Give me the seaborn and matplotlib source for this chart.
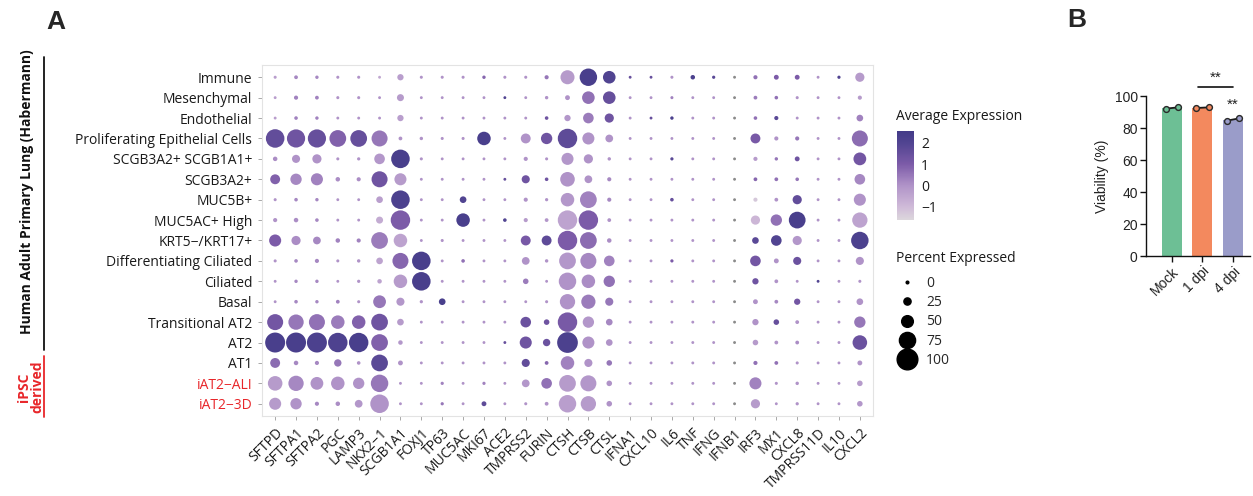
import numpy as np
import pandas as pd

import matplotlib as mpl
mpl.use('Agg')
import matplotlib.pyplot as plt
from matplotlib.colors import LinearSegmentedColormap, Normalize
from matplotlib.lines import Line2D

import seaborn as sns

DPI = 100
FIG_PX = (1253, 496)

CELL_TYPES = ['Immune', 'Mesenchymal', 'Endothelial',
              'Proliferating Epithelial Cells', 'SCGB3A2+ SCGB1A1+',
              'SCGB3A2+', 'MUC5B+', 'MUC5AC+ High', 'KRT5\u2212/KRT17+',
              'Differentiating Ciliated', 'Ciliated', 'Basal',
              'Transitional AT2', 'AT2', 'AT1',
              'iAT2\u2212ALI', 'iAT2\u22123D']
IPSC_TYPES = ['iAT2\u2212ALI', 'iAT2\u22123D']

GENES = ['SFTPD', 'SFTPA1', 'SFTPA2', 'PGC', 'LAMP3', 'NKX2\u22121',
         'SCGB1A1', 'FOXJ1', 'TP63', 'MUC5AC', 'MKI67', 'ACE2', 'TMPRSS2',
         'FURIN', 'CTSH', 'CTSB', 'CTSL', 'IFNA1', 'CXCL10', 'IL6', 'TNF',
         'IFNG', 'IFNB1', 'IRF3', 'MX1', 'CXCL8', 'TMPRSS11D', 'IL10', 'CXCL2']

# percent of cells expressing, one list per cell type (same order as GENES)
PCT_EXPRESSED = [
    [2, 6, 4, 2, 2, 1, 20, 2, 2, 2, 4, 2, 2, 8, 63, 82, 55, 1, 1, 2, 10, 3, 1, 8, 12, 12, 1, 3, 36],
    [1, 8, 6, 2, 2, 1, 24, 1, 1, 1, 1, 1, 1, 4, 12, 55, 55, 1, 1, 2, 1, 1, 1, 6, 5, 2, 1, 1, 8],
    [1, 5, 4, 1, 1, 1, 20, 1, 1, 1, 1, 1, 1, 5, 20, 44, 36, 1, 1, 4, 1, 1, 1, 5, 8, 1, 1, 1, 22],
    [88, 86, 86, 78, 78, 74, 6, 4, 2, 2, 60, 1, 40, 48, 93, 52, 28, 1, 1, 1, 1, 1, 1, 40, 8, 8, 1, 1, 74],
    [10, 30, 36, 2, 3, 44, 88, 2, 1, 1, 1, 1, 8, 2, 52, 36, 4, 1, 1, 3, 1, 1, 1, 8, 4, 12, 1, 1, 56],
    [40, 48, 52, 10, 8, 74, 52, 1, 1, 1, 1, 1, 30, 5, 66, 28, 8, 1, 1, 1, 1, 1, 1, 6, 6, 5, 1, 1, 44],
    [2, 5, 4, 1, 1, 22, 88, 1, 1, 22, 1, 1, 8, 3, 60, 78, 8, 1, 1, 5, 1, 1, 1, 8, 6, 36, 1, 1, 52],
    [8, 10, 5, 1, 1, 24, 93, 1, 1, 60, 1, 5, 8, 6, 93, 93, 6, 1, 1, 1, 1, 1, 1, 36, 48, 78, 1, 1, 70],
    [52, 36, 28, 10, 8, 78, 60, 1, 2, 1, 1, 1, 40, 40, 93, 78, 10, 1, 1, 1, 1, 1, 1, 22, 44, 36, 1, 1, 82],
    [2, 5, 8, 2, 4, 22, 74, 88, 1, 5, 1, 1, 28, 4, 78, 74, 44, 1, 1, 3, 1, 1, 1, 44, 12, 30, 1, 1, 30],
    [1, 4, 4, 1, 3, 10, 60, 88, 1, 1, 1, 1, 16, 1, 82, 60, 48, 1, 1, 1, 1, 1, 1, 20, 6, 1, 1, 1, 2],
    [1, 5, 4, 6, 2, 56, 30, 3, 22, 1, 1, 1, 1, 2, 70, 64, 30, 1, 1, 1, 1, 1, 1, 12, 6, 20, 1, 1, 22],
    [74, 70, 74, 60, 60, 78, 22, 1, 1, 1, 1, 1, 44, 16, 93, 48, 22, 1, 1, 1, 1, 1, 1, 20, 16, 6, 1, 1, 48],
    [96, 96, 96, 93, 93, 78, 10, 1, 1, 1, 1, 1, 52, 26, 100, 52, 22, 1, 1, 1, 1, 1, 1, 16, 6, 6, 1, 1, 66],
    [40, 10, 8, 26, 5, 78, 12, 1, 1, 1, 1, 1, 30, 6, 60, 30, 16, 1, 1, 1, 1, 1, 1, 8, 6, 2, 1, 1, 12],
    [66, 70, 56, 60, 48, 82, 1, 1, 3, 1, 3, 1, 28, 44, 78, 74, 16, 1, 1, 1, 1, 1, 1, 52, 2, 4, 1, 1, 16],
    [52, 48, 8, 10, 28, 88, 1, 1, 3, 1, 12, 1, 2, 6, 82, 70, 16, 1, 1, 1, 1, 1, 1, 36, 1, 3, 1, 1, 16],
]

nan = np.nan
# scaled average expression (IFNB1 has no value -> grey dots)
AVG_EXPRESSION = [
    [-0.3, 0.2, 0.2, 0, 0, -0.5, -0.3, 0, 0, 0, 0.8, 0, 0, 0.5, -0.2, 2.3, 2.0, 1.5, 1.5, 0, 2.2, 1.8, nan, 0.6, 1.0, 1.0, 0, 2.0, -0.2],
    [-0.3, 0.3, 0.3, 0, 0, 0, -0.2, 0, 0, 0, 0, 2.0, 0, 0, 0, 0.6, 1.5, 0, 0, 0.3, 0, 0, nan, 0.4, 0.6, 0, 0, 0, -0.2],
    [-0.3, 0.3, 0.3, 0, 0, 0, -0.3, 0, 0, 0, 0, 0, 0, 1.3, -0.1, 0.4, 1.3, 0, 1.5, 2.2, 0, 0, nan, 0.6, 1.8, 0, 0, 0, 0.3],
    [1.6, 1.3, 1.5, 0.9, 1.5, 0.5, 0, 0, 0, 0, 2.3, 0, 0, 1.3, 1.7, 0, 0, 0, 0, 0, 0, 0, nan, 1.1, 0, 0.5, 0, 0, 0.7],
    [0.1, 0, 0, 0, 0, -0.1, 2.3, 0, 0, 0, 0, 0, 0, 0, -0.1, 0, 0, 0, 0, 1.8, 0, 0, nan, -0.2, 0.5, 1.3, 0, 0, 1.2],
    [0.9, 0.2, 0.3, 0.1, 0.1, 1.3, -0.2, 0, 0, 0, 0, 1.5, 1.3, 1.3, 0, 0, 0.2, 0, 0, 0, 0, 0, nan, 0.8, 0.6, 0.5, 0, 0, 0.2],
    [0, 0.2, 0.2, 0, 0, -0.3, 2.2, 0, 0, 2.0, 0, 0, 0, 0, -0.1, 0.3, 0.2, 0, 0, 1.5, 0, 0, nan, -1.3, 0, 1.6, 0, 0, 0],
    [0, 0.1, 0.2, 0, 0, -0.6, 1.0, 0, 0, 2.3, 0, 2.0, -0.2, -0.1, -0.4, 1.0, 0, 0, 0, 0, 0, 0, nan, -0.9, 0.6, 2.3, 0, 0, -0.4],
    [1.0, 0.1, 0.2, 0.3, 0.3, 0.4, -0.4, 0, 0, 0, 0, 0, 1.1, 1.7, 1.0, 0.7, 0.1, 0, 0, 0, 0, 0, nan, 1.8, 2.0, -0.1, 0, 0, 2.2],
    [0, 0.2, 0.2, 0, 0, -0.4, 0.8, 2.3, 0, 0.6, 0, 0, 0, 0, -0.1, 0.2, 0.3, 0, 0, 1.0, 0, 0, nan, 1.2, 0, 1.4, 0, 0, 0],
    [0, 0.2, 0.2, 0, 0, -0.4, -0.2, 2.3, 0, 0, 0, 0, 0.4, 0, 0, 0.1, 0.6, 0, 0, 0, 0, 0, nan, 1.3, 0, 0, 2.0, 0, 0],
    [0, 0.2, 0.2, 0.3, 0, 0.5, -0.1, 0, 2.3, 0, 0, 0, 0, 0, 0, 0.4, 0.5, 0, 0, 0, 0, 0, nan, 0, 0.2, 1.2, 0, 0, 0],
    [1.2, 0.5, 0.6, 0.4, 0.9, 1.3, -0.2, 0, 0, 0, 0, 0, 1.4, 1.3, 1.1, -0.1, 0.2, 0, 0, 0, 0, 0, nan, 0, 1.5, 0, 0, 0, 0.5],
    [2.3, 2.3, 2.2, 2.1, 2.3, 0.9, -0.1, 0, 0, 0, 0, 1.5, 1.3, 1.4, 2.2, 0, 0, 0, 0, 0, 0, 0, nan, -0.2, 0, 0.1, 0, 0, 1.4],
    [0.7, 0.2, 0.2, 0.5, 0, 1.8, 0, 0, 0, 0, 0, 0, 1.6, 0.8, 0.3, 0, 0.5, 0, 0, 0, 0, 0, nan, 0.6, 0.6, 0, 0, 0, 0],
    [-0.2, 0.2, 0, 0, 0, 0.5, 0, 0, 0.3, 0, 0.3, 0, -0.1, 0.6, -0.2, -0.1, 0, 0, 0, 0, 0, 0, nan, 0.3, 0, 0, 0, 0, -0.2],
    [-0.2, 0, 0.2, 0.1, -0.1, 0, 0, 0, 0.5, 0, 1.7, 0, 0, 0, -0.3, -0.2, 0, 0, 0, 0, 0, 0, nan, -0.2, 0, 0, 0, 0, -0.1],
]

LEGEND_PCT = [0, 25, 50, 75, 100]
CBAR_TICKS = [-1, 0, 1, 2]
VMIN, VMAX = -1.62, 2.55

# panel B
CONDITIONS = ['Mock', '1 dpi', '4 dpi']
VIABILITY_REP1 = [92.1, 92.5, 84.6]
VIABILITY_REP2 = [92.9, 92.9, 86.0]
BAR_COLORS = ['#6dbf95', '#f3895e', '#9a9cc9']

FONT_A = ['Open Sans', 'DejaVu Sans']
FONT_B = ['Liberation Sans', 'DejaVu Sans']
RED = '#e8262a'


def fx(px):
    return px / FIG_PX[0]


def fy(px):
    return 1 - px / FIG_PX[1]


def dot_area(pct):
    '''
    radius grows linearly with percent, returns scatter area in pt^2
    '''
    d_px = 2.7 + 0.18 * pct
    return (d_px * 72 / DPI) ** 2


def dot_plot(fig):
    rows = []
    for i, cell in enumerate(CELL_TYPES):
        for j, gene in enumerate(GENES):
            rows.append({'cell': cell, 'gene': gene,
                         'pct': PCT_EXPRESSED[i][j],
                         'avg': AVG_EXPRESSION[i][j]})
    df = pd.DataFrame(rows)
    sizes = {v: dot_area(v) for v in df['pct'].unique()}

    cmap = LinearSegmentedColormap.from_list(
        'avg_exp',
        [(0.0, '#dcd7dc'), (0.149, '#cfbad8'), (0.388, '#b093c8'),
         (0.628, '#7c5ba8'), (0.868, '#514491'), (1.0, '#433b88')])

    ax = fig.add_axes([fx(262), fy(416), fx(873) - fx(262), fy(65) - fy(416)])
    # fix category order before seaborn adds its own
    ax.xaxis.update_units(np.array(GENES))
    ax.yaxis.update_units(np.array(CELL_TYPES))

    ok = df[df['avg'].notna()]
    missing = df[df['avg'].isna()]
    sns.scatterplot(data=ok, x='gene', y='cell', hue='avg', palette=cmap,
                    hue_norm=(VMIN, VMAX), size='pct', sizes=sizes,
                    linewidth=0, legend=False, ax=ax)
    sns.scatterplot(data=missing, x='gene', y='cell', color='#8a8a8a',
                    size='pct', sizes=sizes, linewidth=0, legend=False, ax=ax)

    ax.set_xlim(-0.63, len(GENES) - 1 + 0.63)
    ax.set_ylim(len(CELL_TYPES) - 1 + 0.6, -0.6)
    ax.set_xlabel('')
    ax.set_ylabel('')
    for sp in ax.spines.values():
        sp.set_color('#e3e3e3')
        sp.set_linewidth(0.8)
    ax.tick_params(axis='both', length=3, width=0.6, color='#9a9a9a',
                   labelsize=10, labelcolor='#1a1a1a', pad=4,
                   bottom=True, left=True)
    plt.setp(ax.get_xticklabels(), rotation=45, ha='right',
             rotation_mode='anchor')
    for lab in ax.get_yticklabels():
        if lab.get_text() in IPSC_TYPES:
            lab.set_color(RED)

    # colour bar
    cax = fig.add_axes([fx(897), fy(220), fx(914) - fx(897), fy(131) - fy(220)])
    sm = mpl.cm.ScalarMappable(norm=Normalize(VMIN, VMAX), cmap=cmap)
    cb = fig.colorbar(sm, cax=cax, ticks=CBAR_TICKS)
    cb.outline.set_visible(False)
    cb.ax.set_yticklabels(['\u22121', '0', '1', '2'])
    cax.tick_params(axis='y', which='both', direction='in', color='white',
                    length=3, width=1, left=True, right=True, labelsize=10,
                    labelcolor='#1a1a1a', pad=5)
    fig.text(fx(896), fy(116), 'Average Expression', fontsize=10,
             va='center', ha='left', color='#1a1a1a')

    # size legend
    fig.text(fx(896), fy(259), 'Percent Expressed', fontsize=10,
             va='center', ha='left', color='#1a1a1a')
    handles = [Line2D([], [], linestyle='', marker='o', color='black',
                      markersize=np.sqrt(dot_area(p))) for p in LEGEND_PCT]
    fig.legend(handles, [str(p) for p in LEGEND_PCT], loc='upper left',
               bbox_to_anchor=(fx(890), fy(270)), frameon=False,
               fontsize=10, labelspacing=0.32, handletextpad=0.6,
               handlelength=1.6, borderaxespad=0)

    # group annotations at the left
    fig.text(fx(27), fy(192), 'Human Adult Primary Lung (Habermann)',
             rotation=90, ha='center', va='center', fontsize=10,
             fontweight='bold', color='#111111')
    fig.add_artist(Line2D([fx(44), fx(44)], [fy(57), fy(350)],
                          color='#111111', lw=1.3))
    fig.text(fx(31), fy(387), 'iPSC\nderived', rotation=90, ha='center',
             va='center', fontsize=10, fontweight='bold', color=RED,
             linespacing=0.95)
    fig.add_artist(Line2D([fx(44), fx(44)], [fy(356), fy(417)],
                          color=RED, lw=1.3))
    fig.text(fx(46), fy(22), 'A', fontsize=19, fontweight='bold',
             family=FONT_B, va='center', ha='left')


def viability_plot(fig):
    df = pd.DataFrame({
        'condition': CONDITIONS * 2,
        'viability': VIABILITY_REP1 + VIABILITY_REP2,
        'replicate': ['r1'] * 3 + ['r2'] * 3,
    })
    axb = fig.add_axes([fx(1146), fy(256), fx(1250) - fx(1146), fy(96) - fy(256)])
    sns.barplot(data=df, x='condition', y='viability', hue='condition',
                order=CONDITIONS, palette=BAR_COLORS, errorbar=None,
                width=0.66, saturation=1, legend=False, ax=axb, linewidth=0)

    for cond, colour in zip(CONDITIONS, BAR_COLORS):
        n_before = len(axb.collections)
        sns.stripplot(data=df[df['condition'] == cond], x='condition',
                      y='viability', hue='replicate', order=CONDITIONS,
                      hue_order=['r1', 'r2'], palette=[colour, colour],
                      dodge=True, jitter=False, size=4.2,
                      edgecolor='#2a2a2a', linewidth=1.0, legend=False,
                      ax=axb, zorder=4)
        pts = np.concatenate([c.get_offsets() for c in
                              axb.collections[n_before:]])
        pts = pts[np.argsort(pts[:, 0])]
        axb.plot(pts[:, 0], pts[:, 1], color='#1a1a1a', lw=1.3, zorder=3)

    axb.set_xlim(-0.85, 2.56)
    axb.set_ylim(0, 100)
    axb.set_yticks([0, 20, 40, 60, 80, 100])
    axb.set_xlabel('')
    axb.set_ylabel('Viability (%)', fontsize=10, family=FONT_B,
                   color='#222222', labelpad=4)
    sns.despine(ax=axb)
    for side in ['left', 'bottom']:
        axb.spines[side].set_color('#111111')
        axb.spines[side].set_linewidth(1.0)
    axb.tick_params(axis='both', length=4, width=1.0, color='#111111',
                    labelsize=10, labelcolor='#222222', pad=2,
                    bottom=True, left=True)
    for lab in axb.get_xticklabels() + axb.get_yticklabels():
        lab.set_family(FONT_B)
    plt.setp(axb.get_xticklabels(), rotation=45, ha='right',
             rotation_mode='anchor')

    # significance marks
    axb.plot([0.85, 2.0], [105.4, 105.4], color='#111111', lw=1.2,
             clip_on=False)
    axb.text(1.42, 107, '**', ha='center', va='bottom', fontsize=11,
             family=FONT_B, color='#222222')
    axb.text(2.0, 90, '**', ha='center', va='bottom', fontsize=11,
             family=FONT_B, color='#222222')

    fig.text(fx(1067), fy(20), 'B', fontsize=19, fontweight='bold',
             family=FONT_B, va='center', ha='left')


def main():
    sns.set_theme(style='white')
    plt.rcParams['font.family'] = FONT_A
    fig = plt.figure(figsize=(FIG_PX[0] / DPI, FIG_PX[1] / DPI), dpi=DPI)
    dot_plot(fig)
    viability_plot(fig)
    fig.savefig('out.png', dpi=DPI, facecolor='white')


if __name__ == "__main__":
    main()
